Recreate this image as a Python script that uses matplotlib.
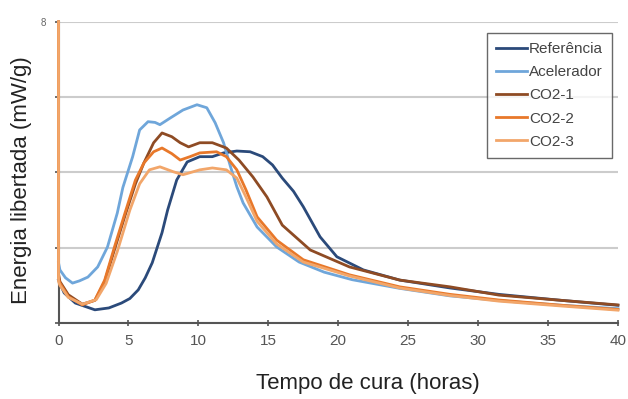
import matplotlib
matplotlib.use("Agg")
import matplotlib.pyplot as plt

plt.rcParams["font.family"] = ["Liberation Sans", "DejaVu Sans"]

# dados (tempo em horas, energia em mW/g)
t_ref = [0, 0.4, 1.2, 2.6, 3.6, 4.5, 5.1, 5.7, 6.2, 6.7, 7.4, 7.8, 8.45,
         9.2, 10.1, 11.0, 11.8, 12.75, 13.7, 14.6, 15.3, 16.0, 16.8, 17.5, 18.7,
         19.9, 21.8, 24.4, 28, 31.5, 36, 40]
v_ref = [1.14, 0.8, 0.53, 0.35, 0.4, 0.53, 0.65, 0.88, 1.2, 1.6, 2.4, 3.0,
         3.8, 4.28, 4.42, 4.42, 4.52, 4.57, 4.55, 4.42, 4.2, 3.85, 3.5,
         3.09, 2.29, 1.76, 1.41, 1.14, 0.93, 0.76, 0.6, 0.47]

t_acel = [0, 0.1, 0.5, 1.0, 1.5, 2.1, 2.8, 3.5, 4.2, 4.6, 5.3, 5.8, 6.4, 6.9,
          7.25, 8.0, 8.9, 9.9, 10.6, 11.2, 11.8, 12.3, 12.75, 13.2, 14.2, 15.6,
          17.2, 19, 21, 24.4, 28, 32, 36, 40]
v_acel = [1.6, 1.41, 1.2, 1.06, 1.12, 1.22, 1.49, 2.02, 2.92, 3.6, 4.42, 5.13,
          5.35, 5.33, 5.27, 5.45, 5.66, 5.8, 5.72, 5.32, 4.79, 4.15, 3.62, 3.19,
          2.55, 2.02, 1.62, 1.35, 1.15, 0.92, 0.72, 0.58, 0.47, 0.38]

t_co1 = [0, 0, 0.1, 0.7, 1.7, 2.6, 3.3, 4.0, 4.75, 5.5, 6.1, 6.8, 7.4, 8.1,
         8.7, 9.3, 10.1, 11.0, 12.0, 12.9, 13.9, 14.9, 16.0, 18.0, 20.8, 24.4,
         28, 31.5, 36, 40]
v_co1 = [8.0, 1.3, 1.1, 0.75, 0.5, 0.6, 1.1, 1.95, 2.85, 3.7, 4.25, 4.79, 5.05,
         4.95, 4.79, 4.68, 4.79, 4.79, 4.65, 4.33, 3.88, 3.35, 2.6, 1.94, 1.49,
         1.14, 0.96, 0.74, 0.6, 0.48]

t_co2 = [0, 0, 0.1, 0.7, 1.7, 2.6, 3.3, 4.0, 4.75, 5.5, 6.1, 6.8, 7.4, 8.1,
         8.7, 9.4, 10.1, 11.3, 12.0, 12.75, 13.4, 14.2, 15.6, 17.5, 20.8, 24.4,
         28, 31.5, 36, 40]
v_co2 = [8.0, 1.2, 1.06, 0.7, 0.48, 0.61, 1.14, 2.02, 2.92, 3.8, 4.25, 4.55,
         4.65, 4.5, 4.33, 4.42, 4.52, 4.55, 4.42, 4.07, 3.54, 2.82, 2.2, 1.68,
         1.28, 0.96, 0.76, 0.61, 0.47, 0.36]

t_co3 = [0, 0, 0.1, 0.7, 1.7, 2.7, 3.4, 4.2, 5.1, 5.8, 6.5, 7.25, 8.2, 8.9,
         10.1, 11.0, 12.0, 12.75, 13.4, 14.2, 15.6, 17.5, 20.8, 24.4, 28, 31.5,
         36, 40]
v_co3 = [8.0, 1.1, 1.0, 0.68, 0.5, 0.62, 1.05, 1.9, 3.0, 3.7, 4.07, 4.15, 4.02,
         3.94, 4.07, 4.12, 4.07, 3.85, 3.35, 2.7, 2.1, 1.62, 1.25, 0.93, 0.73,
         0.58, 0.45, 0.34]

series = [
    ("Referência", t_ref, v_ref, "#2b4a7a"),
    ("Acelerador", t_acel, v_acel, "#6fa6da"),
    ("CO2-1", t_co1, v_co1, "#8e4b24"),
    ("CO2-2", t_co2, v_co2, "#e8782a"),
    ("CO2-3", t_co3, v_co3, "#f2a66a"),
]

x_ticks = [0, 5, 10, 15, 20, 25, 30, 35, 40]

fig = plt.figure(figsize=(6.28, 3.99), dpi=100)
ax = fig.add_axes([0.0932, 0.1905, 0.8908, 0.7545])

for label, t, v, color in series:
    ax.plot(t, v, color=color, lw=2.0, label=label, solid_joinstyle="round",
            clip_on=False, zorder=3)

ax.set_xlim(0, 40)
ax.set_ylim(0, 8)
ax.set_xticks(x_ticks)
ax.set_xticklabels([str(x) for x in x_ticks], fontsize=11, color="#555555")
ax.set_yticks([0, 2, 4, 6, 8])
ax.set_yticklabels(["", "", "", "", "8"], fontsize=7, color="#666666")
ax.tick_params(axis="x", direction="inout", length=4, width=1.2, color="#555555", pad=6)
ax.tick_params(axis="y", direction="out", length=3, width=1.2, color="#555555", pad=6)

ax.grid(axis="y", color="#cccccc", lw=1.5)
ax.set_axisbelow(True)
for side in ["top", "right"]:
    ax.spines[side].set_visible(False)
ax.spines["bottom"].set_color("#555555")
ax.spines["bottom"].set_linewidth(1.5)
ax.spines["left"].set_color("#555555")
ax.spines["left"].set_linewidth(1.5)

fig.text(368 / 628, 1 - 383 / 399, "Tempo de cura (horas)", fontsize=16,
         ha="center", va="center", color="#222222")
fig.text(22 / 628, 1 - 180 / 399, "Energia libertada (mW/g)", fontsize=16,
         rotation=90, ha="center", va="center", color="#222222")

leg = ax.legend(loc="upper right", bbox_to_anchor=(612 / 628, 1 - 33 / 399),
                bbox_transform=fig.transFigure, fontsize=11, frameon=True,
                fancybox=False, edgecolor="#444444", handlelength=2.0,
                handletextpad=0.15, labelspacing=0.6, borderpad=0.6,
                borderaxespad=0)
leg.get_frame().set_linewidth(1.0)
leg.set_zorder(5)
for txt in leg.get_texts():
    txt.set_color("#444444")

fig.savefig("out.png", dpi=100)
